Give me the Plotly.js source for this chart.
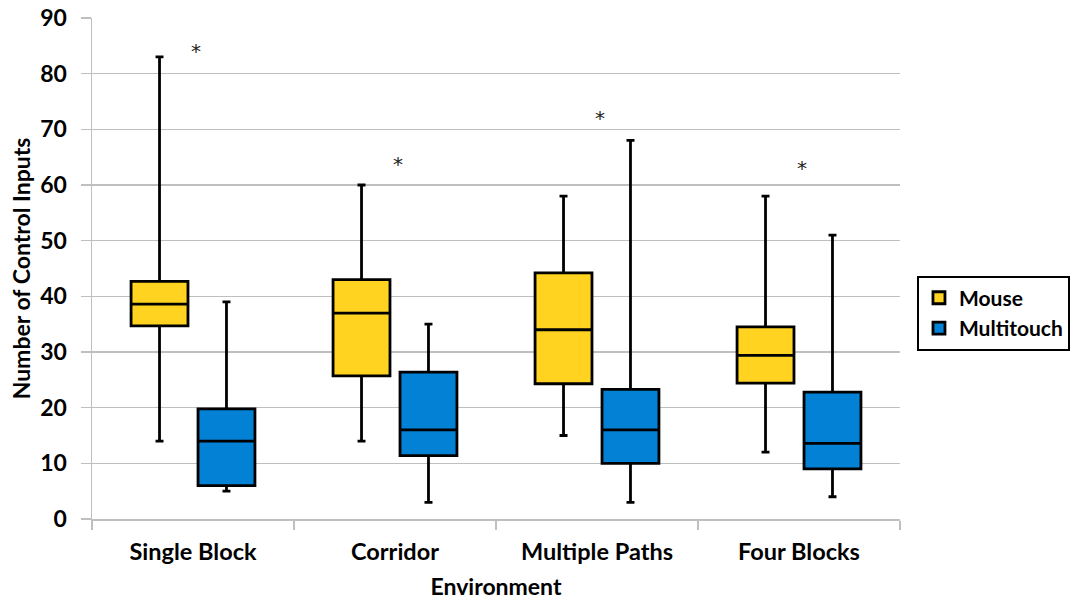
<!DOCTYPE html>
<html>
<head>
<meta charset="utf-8">
<script src="https://cdn.plot.ly/plotly-3.0.1.min.js"></script>
<style>html,body{margin:0;padding:0;background:#fff;}#chart{width:1079px;height:600px;}</style>
</head>
<body>
<div id="chart"></div>
<script>
const categories = ["Single Block", "Corridor", "Multiple Paths", "Four Blocks"];

const mouseLower  = [14, 14, 15, 12];
const mouseQ1     = [34.7, 25.7, 24.3, 24.4];
const mouseMedian = [38.6, 37, 34, 29.4];
const mouseQ3     = [42.7, 43, 44.2, 34.5];
const mouseUpper  = [83, 60, 58, 58];

const touchLower  = [5, 3, 3, 4];
const touchQ1     = [6, 11.4, 10, 9];
const touchMedian = [14, 16, 16, 13.6];
const touchQ3     = [19.8, 26.4, 23.3, 22.8];
const touchUpper  = [39, 35, 68, 51];

const sigMarkY = [84.8, 64.5, 72.7, 63.8];

const font = "Lato, 'Open Sans', 'Liberation Sans', sans-serif";

const mouse = {
  type: "box", name: "Mouse", x: categories,
  lowerfence: mouseLower, q1: mouseQ1, median: mouseMedian, q3: mouseQ3, upperfence: mouseUpper,
  fillcolor: "#FFD320", line: {color: "#000", width: 2.8},
  whiskerwidth: 0.14, boxpoints: false, hoverinfo: "skip"
};
const touch = {
  type: "box", name: "Multitouch", x: categories,
  lowerfence: touchLower, q1: touchQ1, median: touchMedian, q3: touchQ3, upperfence: touchUpper,
  fillcolor: "#0381D4", line: {color: "#000", width: 2.8},
  whiskerwidth: 0.14, boxpoints: false, hoverinfo: "skip"
};

const annotations = categories.map((c, i) => ({
  x: c, y: sigMarkY[i], xref: "x", yref: "y", text: "*", showarrow: false,
  font: {family: "'DejaVu Sans', sans-serif", size: 20, color: "#222"},
  yanchor: "middle", yshift: -4, xshift: 3
}));

const bold = 700;

const layout = {
  width: 1079, height: 600,
  margin: {l: 92, r: 179, t: 18, b: 81, autoexpand: false},
  paper_bgcolor: "#fff", plot_bgcolor: "#fff",
  boxmode: "group", boxgap: 0.337, boxgroupgap: 0.15,
  font: {family: font, color: "#000"},
  xaxis: {
    type: "category", categoryorder: "array", categoryarray: categories,
    tickson: "boundaries", ticks: "outside", ticklen: 9, tickcolor: "#bfbfbf", tickwidth: 1.5,
    ticklabelstandoff: 11,
    showline: true, linecolor: "#bfbfbf", linewidth: 1.5, showgrid: false,
    tickfont: {family: font, size: 23.5, color: "#000", weight: bold},
    title: {text: "Environment", font: {family: font, size: 23, color: "#000", weight: bold}, standoff: 17}
  },
  yaxis: {
    range: [0, 90], dtick: 10, tick0: 0,
    ticks: "outside", ticklen: 10, tickcolor: "#bfbfbf", tickwidth: 1.5,
    ticklabelstandoff: 9,
    showline: true, linecolor: "#bfbfbf", linewidth: 1.5,
    showgrid: true, gridcolor: "#bfbfbf", gridwidth: 1.5, zeroline: false,
    tickfont: {family: font, size: 23, color: "#000", weight: bold},
    title: {text: "Number of Control Inputs", font: {family: font, size: 23, color: "#000", weight: bold}, standoff: 3}
  },
  showlegend: true,
  legend: {
    x: 1.021, xanchor: "left", y: 0.411, yanchor: "middle",
    bordercolor: "#000", borderwidth: 2, bgcolor: "#fff",
    font: {family: font, size: 21, color: "#000", weight: bold},
    tracegroupgap: 5, itemwidth: 30
  },
  annotations: annotations
};

Plotly.newPlot("chart", [mouse, touch], layout, {displayModeBar: false, staticPlot: true});
</script>
</body>
</html>
